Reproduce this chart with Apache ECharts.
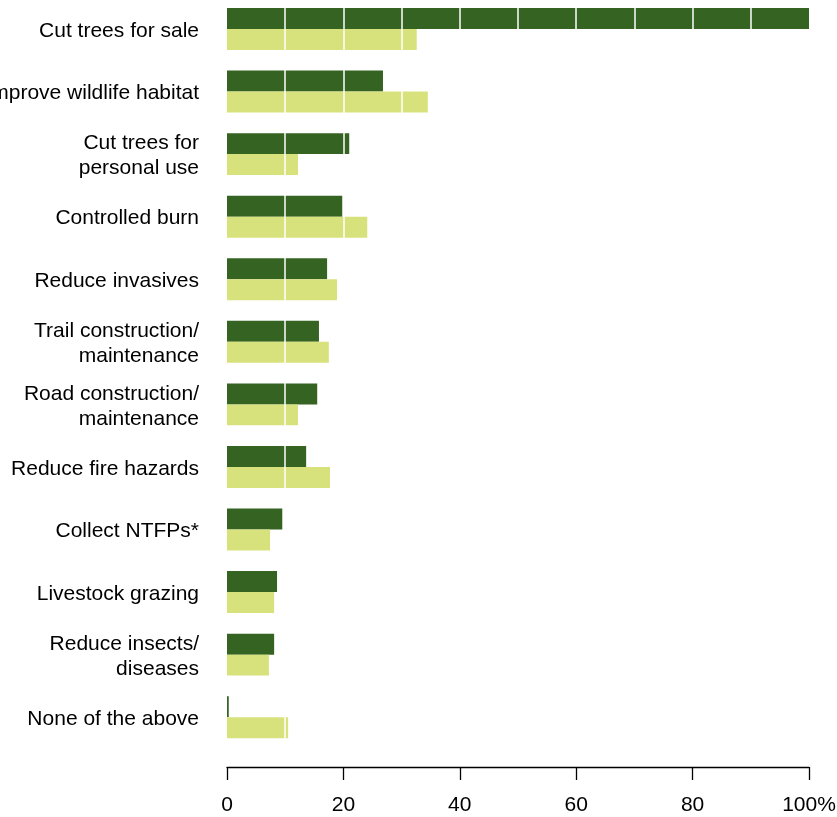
<!DOCTYPE html>
<html><head><meta charset="utf-8">
<script src="https://cdn.jsdelivr.net/npm/echarts@6/dist/echarts.min.js"></script>
<style>html,body{margin:0;padding:0;background:#fff}#c{width:837px;height:817px}</style>
</head><body><div id="c"></div>
<script>
const categories = ["Cut trees for sale","Improve wildlife habitat","Cut trees for\npersonal use","Controlled burn","Reduce invasives","Trail construction/\nmaintenance","Road construction/\nmaintenance","Reduce fire hazards","Collect NTFPs*","Livestock grazing","Reduce insects/\ndiseases","None of the above"];
const darkValues = [100, 26.8, 21.0, 19.8, 17.2, 15.8, 15.5, 13.6, 9.5, 8.6, 8.1, 0.3];
const lightValues = [32.6, 34.5, 12.2, 24.1, 18.9, 17.5, 12.2, 17.7, 7.4, 8.1, 7.2, 10.5];
const xTicks = [0, 20, 40, 60, 80, 100];
const gridLines = [10, 20, 30, 40, 50, 60, 70, 80, 90];

const chart = echarts.init(document.getElementById('c'), null, {renderer:'canvas'});
const font = '"Liberation Sans", Arial, Helvetica, sans-serif';
chart.setOption({
  animation:false,
  backgroundColor:'#fff',
  textStyle:{fontFamily:font},
  grid:{left:227, right:28, top:-2.3, bottom:68.5, containLabel:false, outerBoundsMode:'none'},
  xAxis:{type:'value', min:0, max:100, interval:20, offset:18.5,
    axisLine:{show:true, lineStyle:{color:'#000', width:1.3}},
    axisTick:{show:true, length:13, lineStyle:{color:'#000', width:1.3}},
    axisLabel:{margin:28, color:'#000', fontSize:21, fontFamily:font, hideOverlap:false,
      formatter:v => xTicks.includes(v) ? (v===100 ? '100%' : String(v)) : ''},
    splitLine:{show:false}},
  yAxis:{type:'category', data:categories, inverse:true,
    axisLine:{show:false}, axisTick:{show:false},
    axisLabel:{margin:28, color:'#000', fontSize:21, lineHeight:25, fontFamily:font, align:'right',
      formatter:v => v.split('\n').map(l => '{a|' + l + '}').join('\n'),
      rich:{a:{fontSize:21, lineHeight:25, padding:[4,0,0,0], color:'#000', fontFamily:font, align:'right'}}}},
  series:[
    {type:'bar', data:darkValues, barGap:'0%', barCategoryGap:'33%',
     itemStyle:{color:'#346322'}, z:2},
    {type:'bar', data:lightValues, barGap:'0%', barCategoryGap:'33%',
     itemStyle:{color:'#d8e27c'}, z:3,
     markLine:{silent:true, symbol:'none', label:{show:false}, z:10,
       lineStyle:{color:'#ffffff', type:'solid', width:1.5},
       data:gridLines.map(v => ({xAxis:v}))}}
  ]
});
</script></body></html>
